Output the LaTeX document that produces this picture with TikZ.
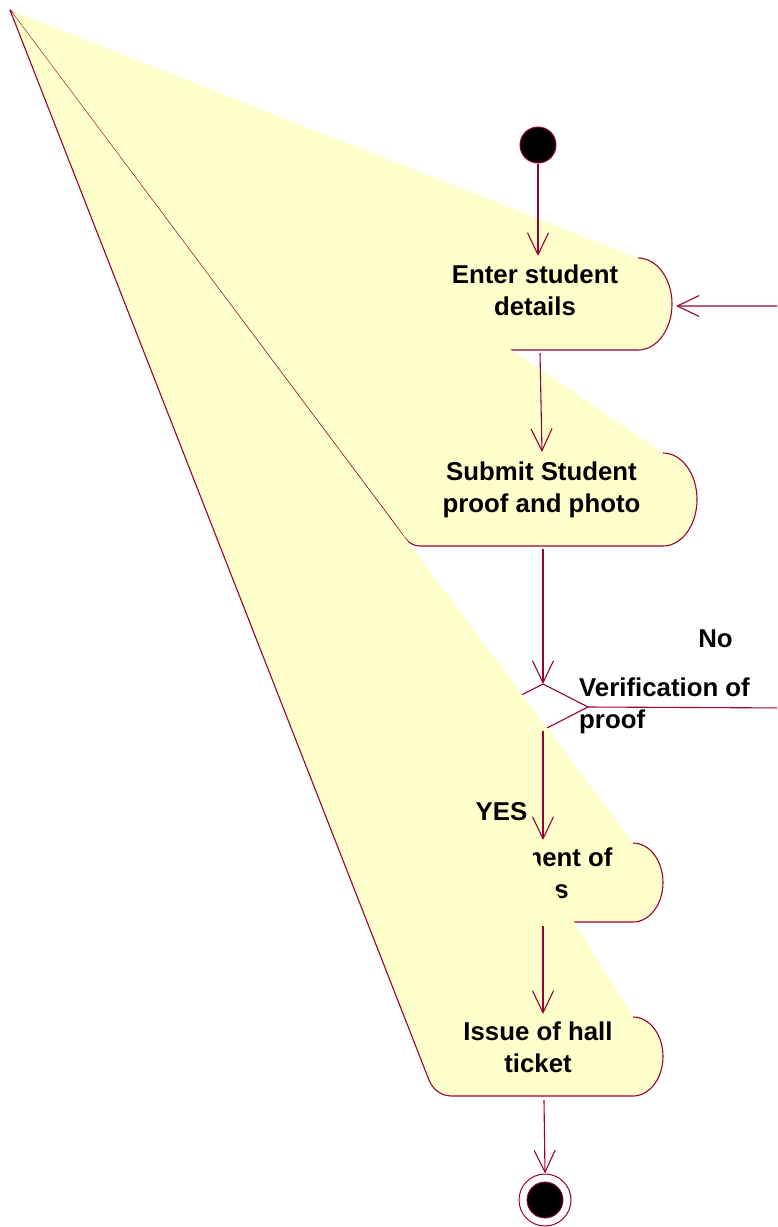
\documentclass[tikz,border=0pt]{standalone}
\usepackage{fontspec}
\setmainfont{Liberation Sans}
\usetikzlibrary{arrows.meta}
\definecolor{rline}{RGB}{153,0,51}
\definecolor{ryel}{RGB}{255,255,204}
\begin{document}
\begin{tikzpicture}[x=1pt,y=-1pt,
  edge/.style={draw=rline, line width=1.1pt},
  flow/.style={draw=rline, line width=1.1pt, -{Straight Barb[length=22pt,width=21pt,line width=1.1pt]}},
  lbl/.style={font=\bfseries\fontsize{25.8}{31.5}\selectfont, inner sep=0pt, align=center, text=black}
]
\useasboundingbox (0,0) rectangle (777,1227);
\clip (0,0) rectangle (777,1227);
\coordinate (O) at (10,10);
% connector ends
\coordinate (s1in) at (538,256);
\coordinate (s1out) at (540,353);
\coordinate (s1right) at (676,306);
\coordinate (s2in) at (542,452);
\coordinate (s2out) at (543,549);
\coordinate (dtop) at (543,684);
\coordinate (dright) at (588,707);
\coordinate (dbot) at (543,730);
\coordinate (dleft) at (498,707);
\coordinate (dout) at (543,731);
\coordinate (s4in) at (543,840);
\coordinate (s4out) at (543,926);
\coordinate (s5in) at (543,1014);
\coordinate (s5out) at (544,1100);
\coordinate (nr1) at (795,708);
\coordinate (nr2) at (795,306);

% activity 1
\fill[ryel] (O) -- (638,258) .. controls (656.8,258) and (672,278.6) .. (672,304) .. controls (672,329.4) and (656.8,350) .. (638,350) -- (432,350) .. controls (420,350) and (413,341) .. (409,333) -- cycle;
\draw[edge] (638,258) .. controls (656.8,258) and (672,278.6) .. (672,304) .. controls (672,329.4) and (656.8,350) .. (638,350) -- (432,350) .. controls (420,350) and (413,341) .. (409,333) -- (O);
\node[lbl, anchor=base] (t1) at (535,315) {Enter student\\details};

% activity 2
\fill[ryel] (O) -- (663,453) .. controls (681.8,453) and (697,473.8) .. (697,499.5) .. controls (697,525.2) and (681.8,546) .. (663,546) -- (420,546) .. controls (408,546) and (403,535) .. (397,527) -- cycle;
\draw[edge] (663,453) .. controls (681.8,453) and (697,473.8) .. (697,499.5) .. controls (697,525.2) and (681.8,546) .. (663,546) -- (420,546) .. controls (408,546) and (403,535) .. (397,527) -- (O);
\node[lbl, anchor=base] (t2) at (541.5,512) {Submit Student\\proof and photo};

% decision
\draw[edge] (dtop) -- (dright) -- (dbot) -- (dleft) -- cycle;

% activity 4
\fill[ryel] (O) -- (633,843) .. controls (649.6,843) and (663,860.7) .. (663,882.5) .. controls (663,904.3) and (649.6,922) .. (633,922) -- (453,922) .. controls (441,922) and (436,913) .. (432,905) -- cycle;
\draw[edge] (633,843) .. controls (649.6,843) and (663,860.7) .. (663,882.5) .. controls (663,904.3) and (649.6,922) .. (633,922) -- (453,922) .. controls (441,922) and (436,913) .. (432,905) -- (O);
\node[lbl, anchor=base] (t4) at (543,898) {Payment of\\fees};

% activity 5
\fill[ryel] (O) -- (633,1017) .. controls (649.6,1017) and (663,1034.7) .. (663,1056.5) .. controls (663,1078.3) and (649.6,1096) .. (633,1096) -- (452,1096) .. controls (440,1096) and (432.3,1088.4) .. (429,1080) -- cycle;
\draw[edge] (633,1017) .. controls (649.6,1017) and (663,1034.7) .. (663,1056.5) .. controls (663,1078.3) and (649.6,1096) .. (633,1096) -- (452,1096) .. controls (440,1096) and (432.3,1088.4) .. (429,1080) -- (O);
\node[lbl, anchor=base] (t5) at (538,1072) {Issue of hall\\ticket};

% start / end
\node[circle, fill=black, draw=rline, line width=1pt, minimum size=36pt, inner sep=0pt] (start) at (538,145) {};
\node[circle, draw=rline, fill=white, line width=1pt, minimum size=52pt, inner sep=0pt] (endo) at (545,1200) {};
\node[circle, fill=black, draw=rline, line width=0.8pt, minimum size=36pt, inner sep=0pt] (endi) at (545,1200) {};

% labels
\node[lbl, anchor=base] (no) at (715.5,647) {No};
\node[lbl, anchor=base] (yes) at (501.5,820) {YES};
\node[lbl, anchor=base west, align=left] (ver) at (579,728) {Verification of\\proof};

% flows
\draw[flow] (start.south) -- (s1in);
\draw[flow] (s1out) -- (s2in);
\draw[flow] (s2out) -- (dtop);
\draw[flow] (dout) -- (s4in);
\draw[flow] (s4out) -- (s5in);
\draw[flow] (s5out) -- (endo.north);
\draw[flow] (dright) -- (nr1) -- (nr2) -- (s1right);
\end{tikzpicture}
\end{document}
